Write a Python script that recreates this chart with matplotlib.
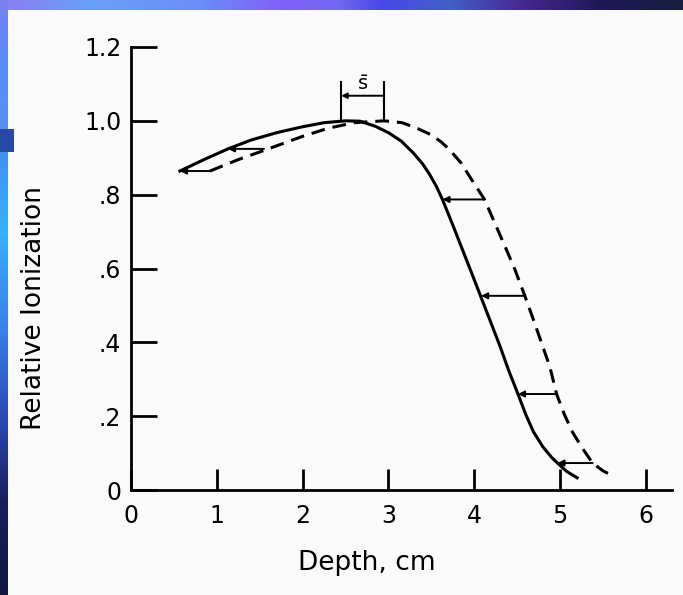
import matplotlib
matplotlib.use('Agg')
import matplotlib.pyplot as plt
import numpy as np

plt.rcParams['font.family'] = 'DejaVu Sans'
plt.rcParams['mathtext.fontset'] = 'dejavusans'

# measured depth-ionization curve (solid) and shifted curve (dashed)
solid_x = [0.57, 0.85, 1.13, 1.4, 1.7, 2.0, 2.25, 2.5, 2.67, 2.85, 3.0, 3.15,
           3.29, 3.4, 3.48, 3.56, 3.63, 3.75, 3.87, 4.0, 4.1, 4.2, 4.3, 4.4,
           4.51, 4.6, 4.69, 4.8, 4.9, 4.97, 5.08, 5.2]
solid_y = [0.864, 0.895, 0.924, 0.948, 0.968, 0.984, 0.995, 1.0, 0.999, 0.985,
           0.968, 0.945, 0.913, 0.883, 0.855, 0.822, 0.787, 0.718, 0.647, 0.57,
           0.51, 0.45, 0.39, 0.325, 0.26, 0.205, 0.158, 0.117, 0.089, 0.073,
           0.05, 0.033]

dashed_x = [0.92, 1.25, 1.6, 2.0, 2.3, 2.6, 2.95, 3.16, 3.35, 3.5, 3.62, 3.72,
            3.85, 3.95, 4.12, 4.34, 4.47, 4.59, 4.7, 4.8, 4.88, 4.96, 5.05,
            5.15, 5.27, 5.38, 5.5, 5.62]
dashed_y = [0.864, 0.895, 0.924, 0.958, 0.98, 0.995, 1.0, 0.995, 0.978, 0.962,
            0.942, 0.92, 0.885, 0.848, 0.787, 0.67, 0.6, 0.526, 0.455, 0.388,
            0.335, 0.26, 0.205, 0.155, 0.11, 0.073, 0.052, 0.038]

# horizontal shift arrows (from dashed back to solid)
arrow_y = [0.864, 0.924, 0.787, 0.526, 0.26, 0.073]
arrow_from = [0.92, 1.55, 4.12, 4.59, 4.96, 5.38]
arrow_to = [0.57, 1.13, 3.63, 4.08, 4.51, 4.97]

# s-bar bracket
sbar_left = 2.45
sbar_right = 2.95
sbar_top = 1.106
sbar_arrow_y = 1.068

xticks = [0, 1, 2, 3, 4, 5, 6]
xlabels = ['0', '1', '2', '3', '4', '5', '6']
yticks = [0, 0.2, 0.4, 0.6, 0.8, 1.0, 1.2]
ylabels = ['0', '.2', '.4', '.6', '.8', '1.0', '1.2']

W, H = 683, 595
fig = plt.figure(figsize=(W / 100, H / 100), dpi=100)
fig.patch.set_facecolor('#fafafa')

# slide border (blue gradient strips at top and left)
bg = fig.add_axes([0, 0, 1, 1], zorder=-5)
img = np.ones((H, W, 3)) * (250 / 255)

def hex2rgb(h):
    return np.array([int(h[i:i + 2], 16) for i in (1, 3, 5)]) / 255

def grad(pos, cols, n):
    cols = np.array([hex2rgb(c) for c in cols])
    t = np.arange(n)
    return np.stack([np.interp(t, pos, cols[:, k]) for k in range(3)], axis=1)

top = grad([0, 90, 200, 280, 340, 380, 450, 520, 600, 683],
           ['#8a7cf0', '#6aa0f8', '#6a8cf8', '#8060f8', '#7068f0', '#4848e8',
            '#4060c8', '#482890', '#201858', '#182040'], W)
left = grad([0, 60, 128, 129, 149, 150, 230, 330, 420, 500, 595],
            ['#7a80f0', '#5a8ef8', '#5a90f0', '#2848a8', '#2848a8', '#4090f0',
             '#38b0f8', '#3a80e8', '#2a48b0', '#182060', '#101840'], H)
img[:10, :, :] = top[None, :, :]
img[:, :8, :] = left[:, None, :]
img[129:152, :14, :] = hex2rgb('#2848a8')
bg.imshow(img, aspect='auto', interpolation='nearest')
bg.axis('off')

ax = fig.add_axes([131 / W, 105 / H, 6.3 * 85.8 / W, 443 / H])
ax.set_facecolor('none')
ax.set_xlim(0, 6.3)
ax.set_ylim(0, 1.2)

ax.plot(solid_x, solid_y, color='k', lw=2.2, solid_joinstyle='round')
ax.plot(dashed_x, dashed_y, color='k', lw=2.2, linestyle=(0, (4.5, 2.6)))

for y, x0, x1 in zip(arrow_y, arrow_from, arrow_to):
    ax.annotate('', xy=(x1, y), xytext=(x0, y),
                arrowprops=dict(arrowstyle='-|>', color='k', lw=1.4,
                                mutation_scale=9, shrinkA=0, shrinkB=0))

ax.plot([sbar_left, sbar_left], [1.0, sbar_top], color='k', lw=1.5)
ax.plot([sbar_right, sbar_right], [1.0, sbar_top], color='k', lw=1.5)
ax.annotate('', xy=(sbar_left, sbar_arrow_y), xytext=(sbar_right, sbar_arrow_y),
            arrowprops=dict(arrowstyle='-|>', color='k', lw=1.4,
                            mutation_scale=8, shrinkA=0, shrinkB=0))
ax.text((sbar_left + sbar_right) / 2, sbar_arrow_y + 0.006, r'$\bar{\mathsf{s}}$',
        ha='center', va='bottom', fontsize=14, fontweight='bold')

for s in ['top', 'right']:
    ax.spines[s].set_visible(False)
for s in ['left', 'bottom']:
    ax.spines[s].set_linewidth(2)
ax.spines['left'].set_bounds(0, 1.2)
ax.spines['bottom'].set_bounds(0, 6.3)

ax.set_xticks(xticks, xlabels, fontsize=17)
ax.set_yticks(yticks, ylabels, fontsize=17)
ax.tick_params(axis='x', direction='in', length=15, width=2, pad=10)
ax.tick_params(axis='y', direction='in', length=19, width=2, pad=7)

ax.set_xlabel('Depth, cm', fontsize=19)
ax.xaxis.set_label_coords(0.437, -0.135)
ax.set_ylabel('Relative Ionization', fontsize=19)
ax.yaxis.set_label_coords(-0.155, 0.41)

fig.savefig('out.png', dpi=100, facecolor=fig.get_facecolor())
